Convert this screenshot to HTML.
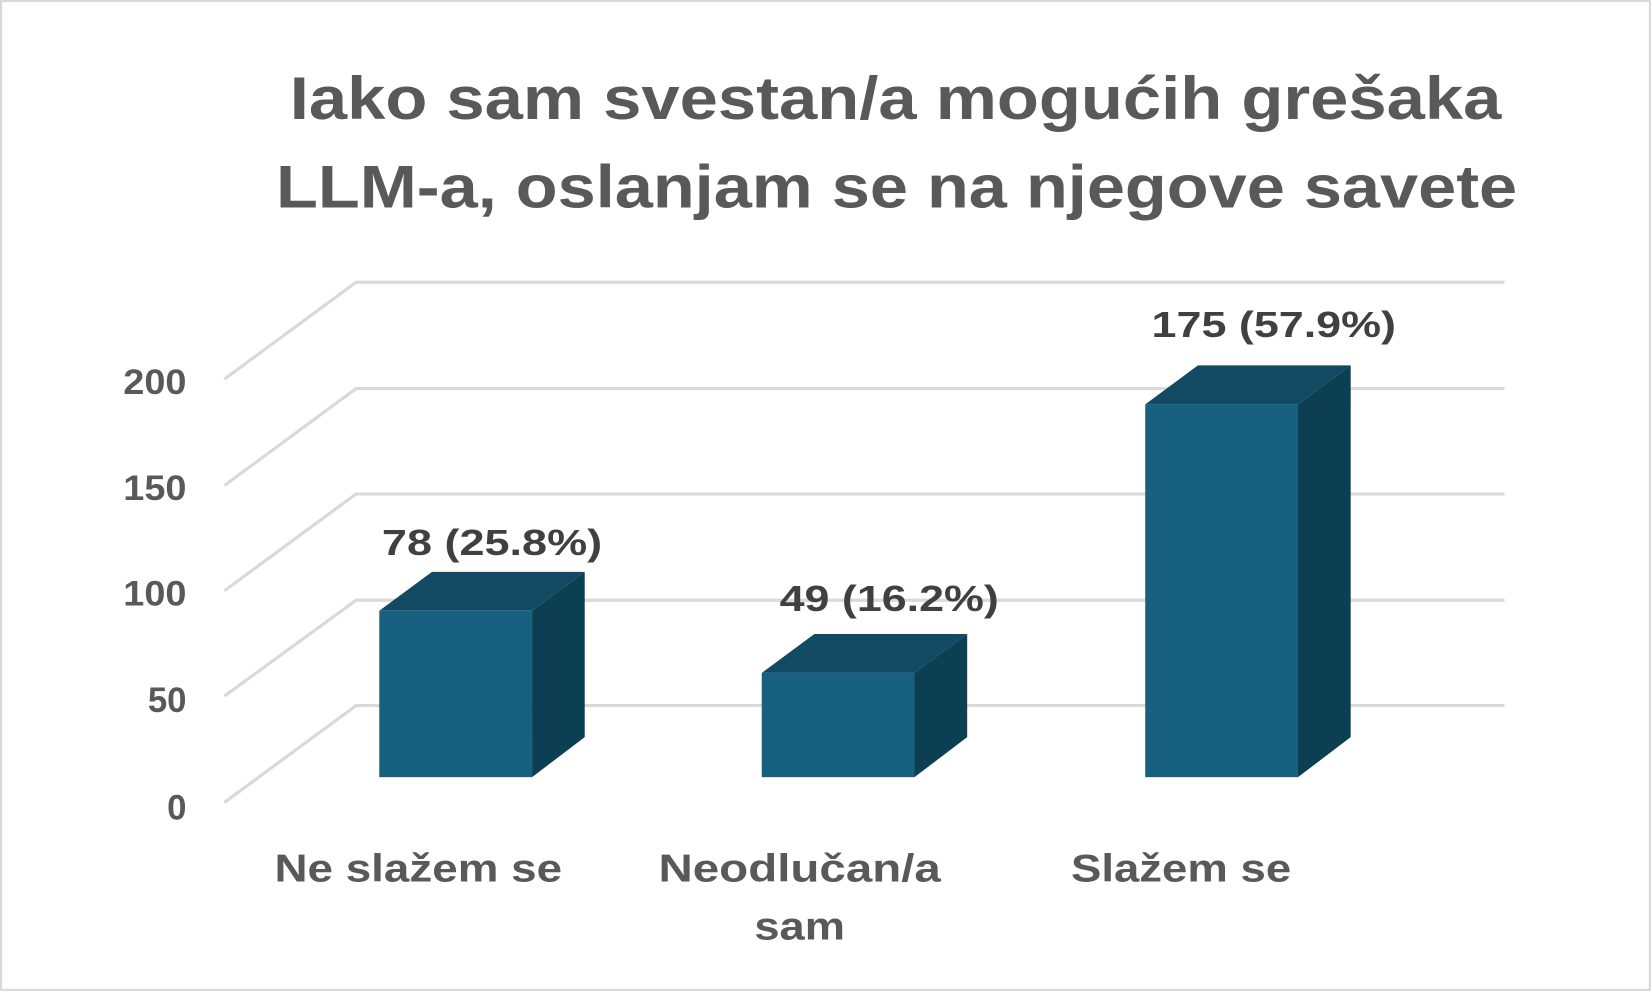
<!DOCTYPE html>
<html><head><meta charset="utf-8"><style>
html,body{margin:0;padding:0;background:#fff;width:1652px;height:992px;overflow:hidden}
svg{display:block}
text{font-family:"Liberation Sans",Arial,sans-serif;font-weight:bold}
</style></head><body>
<svg width="1652" height="992" viewBox="0 0 1568 942" preserveAspectRatio="none">
<rect x="1" y="1" width="1565" height="939" fill="#fff" stroke="#d9d9d9" stroke-width="2"/>
<g fill="#595959" font-size="57" text-anchor="middle">
<text x="850" y="113" textLength="1150" lengthAdjust="spacingAndGlyphs">Iako sam svestan/a mogućih grešaka</text>
<text x="851" y="197" textLength="1178" lengthAdjust="spacingAndGlyphs">LLM-a, oslanjam se na njegove savete</text>
</g>
<g stroke="#d9d9d9" stroke-width="3" fill="none">
<polyline points="213,360 338,268 1428,268"/>
<polyline points="213,461 338,369 1428,369"/>
<polyline points="213,561 338,469 1428,469"/>
<polyline points="213,661 338,570 1428,570"/>
<polyline points="213,762 338,670 1428,670"/>
</g>
<g fill="#595959" font-size="33" text-anchor="end">
<text x="177" y="374" textLength="60" lengthAdjust="spacingAndGlyphs">200</text>
<text x="177" y="475" textLength="60" lengthAdjust="spacingAndGlyphs">150</text>
<text x="177" y="575" textLength="60" lengthAdjust="spacingAndGlyphs">100</text>
<text x="177" y="676">50</text>
<text x="177" y="778">0</text>
</g>
<g>
<polygon points="360,580 410,543 555,543 505,580" fill="#124A64"/>
<polygon points="505,580 555,543 555,700 505,738" fill="#0D3F52"/>
<rect x="360" y="580" width="145" height="158" fill="#176080"/>
<polygon points="723,639 773,602 918,602 868,639" fill="#124A64"/>
<polygon points="868,639 918,602 918,700 868,738" fill="#0D3F52"/>
<rect x="723" y="639" width="145" height="99" fill="#176080"/>
<polygon points="1087,384 1137,347 1282,347 1232,384" fill="#124A64"/>
<polygon points="1232,384 1282,347 1282,700 1232,738" fill="#0D3F52"/>
<rect x="1087" y="384" width="145" height="354" fill="#176080"/>
</g>
<g fill="#404040" font-size="34" text-anchor="middle">
<text x="467" y="527" textLength="209" lengthAdjust="spacingAndGlyphs">78 (25.8%)</text>
<text x="844" y="580" textLength="208" lengthAdjust="spacingAndGlyphs">49 (16.2%)</text>
<text x="1209" y="320" textLength="232" lengthAdjust="spacingAndGlyphs">175 (57.9%)</text>
</g>
<g fill="#595959" font-size="37" text-anchor="middle">
<text x="397" y="837" textLength="273" lengthAdjust="spacingAndGlyphs">Ne slažem se</text>
<text x="759" y="837" textLength="268" lengthAdjust="spacingAndGlyphs">Neodlučan/a</text>
<text x="759" y="892" textLength="86" lengthAdjust="spacingAndGlyphs">sam</text>
<text x="1121" y="837" textLength="209" lengthAdjust="spacingAndGlyphs">Slažem se</text>
</g>
</svg>
</body></html>
